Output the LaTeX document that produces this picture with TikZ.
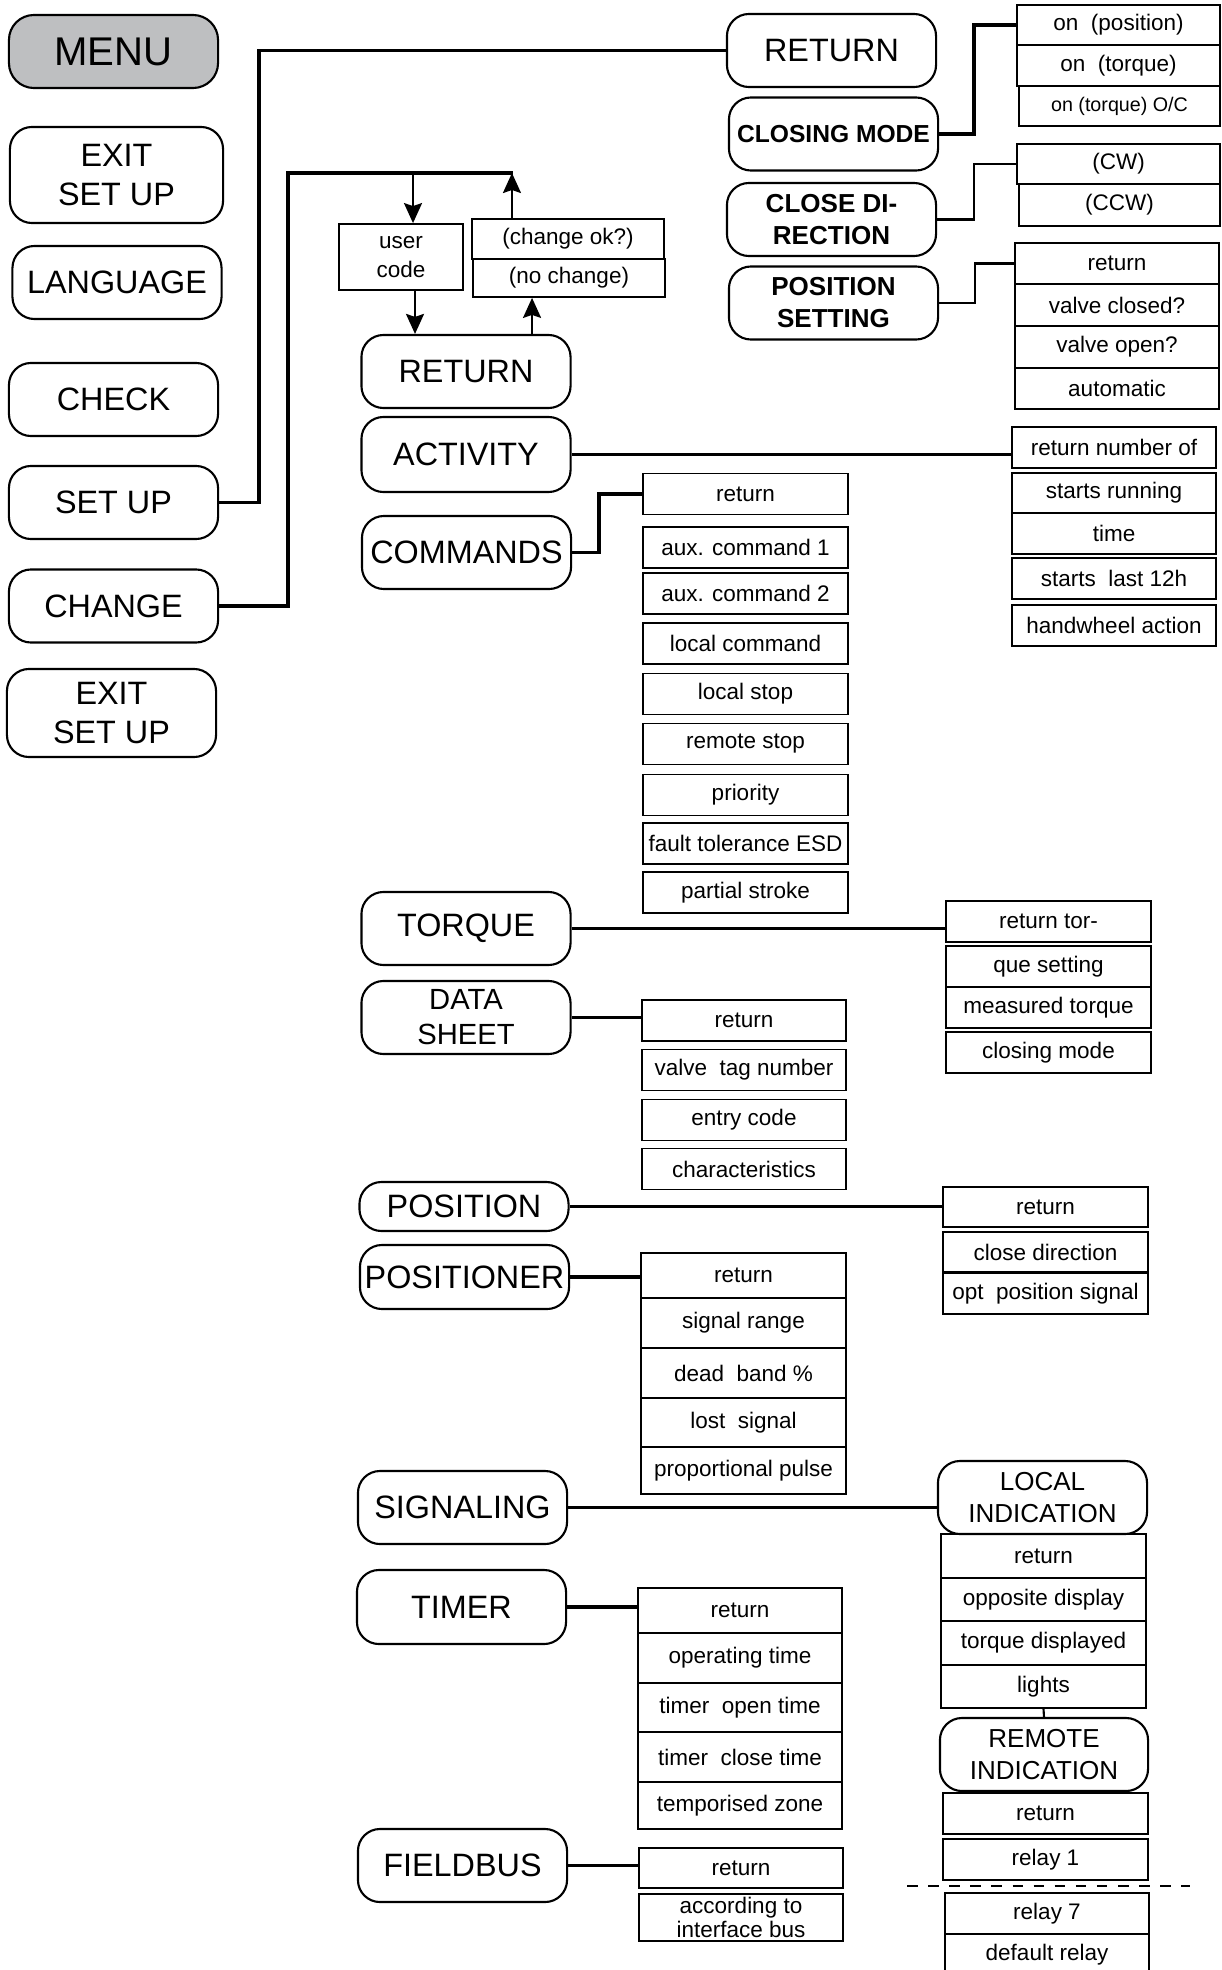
\documentclass[tikz,border=0pt]{standalone}
\usepackage{fontspec}
\setmainfont{Liberation Sans}
\usetikzlibrary{arrows.meta}
\definecolor{menugrau}{RGB}{190,191,193}
\begin{document}
\begin{tikzpicture}[x=0.01cm, y=-0.01cm]
			\tikzset{menu/.style={rectangle, rounded corners=2.2mm, draw=black, line width=0.6pt, minimum width=20.9mm, minimum height=7.3mm, inner sep=0.3mm, align=center, font=\fontsize{9.2}{10}\selectfont}}
			\tikzset{fett/.style={menu, font=\bfseries\fontsize{7.4}{9.1}\selectfont}}
			\tikzset{feld/.style={rectangle, draw=black, line width=0.5pt, minimum width=20.4mm, minimum height=4.1mm, inner sep=0.3mm, align=center, font=\fontsize{6.4}{8}\selectfont}}
			\tikzset{verb/.style={line width=1.1pt}}
			\tikzset{duenn/.style={line width=0.6pt}}
			\tikzset{pfeil/.style={line width=0.6pt, -{Stealth[length=2mm, width=1.8mm, inset=0.3mm]}}}
			\useasboundingbox (0,0) rectangle (1222,1970);

			% Main menu
			\node[menu, fill=menugrau, rounded corners=2.5mm, font=\fontsize{11.4}{13}\selectfont] at (113.5, 51.5) (menu) {MENU};
			\node[menu, minimum width=21.3mm, minimum height=9.6mm, font=\fontsize{9.2}{11.1}\selectfont] at (116.5, 175) (ex1) {EXIT\\SET UP};
			\node[menu] at (117, 282.5) (lang) {LANGUAGE};
			\node[menu] at (113.5, 399.5) (chk) {CHECK};
			\node[menu] at (113.5, 502.5) (setup) {SET UP};
			\node[menu] at (113.5, 606) (chg) {CHANGE};
			\node[menu, minimum height=8.8mm, font=\fontsize{9.2}{11.1}\selectfont] at (111.5, 713) (ex2) {EXIT\\SET UP};

			% Change: user code
			\coordinate (top) at (513, 173);
			\node[feld, minimum width=12.4mm, minimum height=6.6mm] at (401, 257) (uc) {user\\code};
			\node[feld, minimum width=19.2mm, minimum height=4mm] at (568, 239) (ok) {(change ok?)};
			\node[feld, minimum width=19.2mm, minimum height=3.8mm] at (569, 278) (nc) {(no change)};

			% Change menu
			\node[menu] at (466, 371.5) (ret) {RETURN};
			\node[menu, minimum height=7.5mm] at (466, 454.5) (act) {ACTIVITY};
			\node[menu] at (466.5, 552.5) (cmd) {COMMANDS};
			\node[menu] at (466, 928.5) (trq) {TORQUE};
			\node[menu, font=\fontsize{8.3}{10}\selectfont] at (466, 1017.5) (dat) {DATA\\SHEET};
			\node[menu, minimum height=4.9mm] at (464, 1206.5) (pos) {POSITION};
			\node[menu, minimum height=6.4mm] at (464.5, 1277) (posr) {POSITIONER};
			\node[menu] at (462.5, 1507.5) (sig) {SIGNALING};
			\node[menu, minimum height=7.4mm] at (461.5, 1607) (tim) {TIMER};
			\node[menu] at (462.5, 1865.5) (fb) {FIELDBUS};

			% Set up menu
			\node[menu] at (831.5, 50.5) (sret) {RETURN};
			\node[fett, font=\bfseries\fontsize{7}{9.1}\selectfont] at (833.5, 134) (cm) {CLOSING MODE};
			\node[fett] at (831.5, 219.5) (cd) {CLOSE DI-\\RECTION};
			\node[fett] at (833.5, 303) (ps) {POSITION\\SETTING};

			% Closing mode
			\node[feld, minimum width=20.3mm, minimum height=4mm] at (1118.5, 25) (cm1) {on~~(position)};
			\node[feld, minimum width=20.3mm] at (1118.5, 65.5) (cm2) {on~~(torque)};
			\node[feld, minimum width=20.1mm, minimum height=4mm, font=\fontsize{5.6}{7}\selectfont] at (1119.5, 106) (cm3) {on (torque) O/C};

			% Close direction
			\node[feld, minimum width=20.3mm, minimum height=4mm] at (1118.5, 164) (cd1) {(CW)};
			\node[feld, minimum width=20.1mm, minimum height=4.2mm] at (1119.5, 205) (cd2) {(CCW)};

			% Position setting
			\node[feld, line width=0.7pt, minimum height=4.15mm] at (1117, 263.5) (ps1) {return};
			\node[feld, line width=0.7pt, minimum height=4.15mm] at (1117, 305) (ps2) {valve closed?};
			\node[feld, line width=0.7pt, minimum height=4.15mm] at (1117, 347) (ps3) {valve open?};
			\node[feld, line width=0.7pt, minimum height=4.15mm] at (1117, 388.5) (ps4) {automatic};

			% Activity
			\node[feld] at (1114, 447.5) (a1) {return number of};
			\node[feld, minimum height=4mm] at (1114, 493) (a2) {starts running};
			\node[feld] at (1114, 533.5) (a3) {time};
			\node[feld] at (1114, 578.5) (a4) {starts~~last 12h};
			\node[feld] at (1114, 625.5) (a5) {handwheel action};

			% Commands
			\node[feld, minimum width=20.5mm] at (745.5, 494) (c1) {return};
			\node[feld, minimum width=20.5mm] at (745.5, 547.5) (c2) {aux. command 1};
			\node[feld, minimum width=20.5mm] at (745.5, 593.5) (c3) {aux. command 2};
			\node[feld, minimum width=20.5mm] at (745.5, 643.5) (c4) {local command};
			\node[feld, minimum width=20.5mm] at (745.5, 694) (c5) {local stop};
			\node[feld, minimum width=20.5mm] at (745.5, 744) (c6) {remote stop};
			\node[feld, minimum width=20.5mm] at (745.5, 795) (c7) {priority};
			\node[feld, minimum width=20.5mm] at (745.5, 843.5) (c8) {fault tolerance ESD};
			\node[feld, minimum width=20.5mm] at (745.5, 892.5) (c9) {partial stroke};

			% Torque
			\node[feld, minimum width=20.5mm] at (1048.5, 921.5) (t1) {return tor-};
			\node[feld, minimum width=20.5mm] at (1048.5, 966.5) (t2) {que setting};
			\node[feld, minimum width=20.5mm] at (1048.5, 1007.5) (t3) {measured torque};
			\node[feld, minimum width=20.5mm] at (1048.5, 1052.5) (t4) {closing mode};

			% Data sheet
			\node[feld] at (744, 1020.5) (d1) {return};
			\node[feld] at (744, 1070) (d2) {valve~~tag number};
			\node[feld] at (744, 1120) (d3) {entry code};
			\node[feld] at (744, 1169) (d4) {characteristics};

			% Position
			\node[feld, minimum width=20.5mm, minimum height=4mm] at (1045.5, 1207) (p1) {return};
			\node[feld, minimum width=20.5mm, minimum height=4mm] at (1045.5, 1252) (p2) {close direction};
			\node[feld, minimum width=20.5mm] at (1045.5, 1293.5) (p3) {opt~~position signal};

			% Positioner
			\node[feld, minimum width=20.5mm, minimum height=4.5mm] at (743.5, 1275.5) (pr1) {return};
			\node[feld, minimum width=20.5mm, minimum height=5mm] at (743.5, 1323) (pr2) {signal range};
			\node[feld, minimum width=20.5mm, minimum height=5mm] at (743.5, 1373) (pr3) {dead~~band \%};
			\node[feld, minimum width=20.5mm, minimum height=4.9mm] at (743.5, 1422.5) (pr4) {lost~~signal};
			\node[feld, minimum width=20.5mm, minimum height=4.7mm] at (743.5, 1470.5) (pr5) {proportional pulse};

			% Signaling
			\node[menu, font=\fontsize{7.4}{9.1}\selectfont] at (1042.5, 1497.5) (li) {LOCAL\\INDICATION};
			\node[feld, minimum width=20.5mm, minimum height=4.4mm] at (1043.5, 1556) (l1) {return};
			\node[feld, minimum width=20.5mm, minimum height=4.3mm] at (1043.5, 1599.5) (l2) {opposite display};
			\node[feld, minimum width=20.5mm, minimum height=4.4mm] at (1043.5, 1643) (l3) {torque displayed};
			\node[feld, minimum width=20.5mm, minimum height=4.3mm] at (1043.5, 1686.5) (l4) {lights};
			\node[menu, minimum width=20.8mm, font=\fontsize{7.4}{9.1}\selectfont] at (1044, 1754.5) (ri) {REMOTE\\INDICATION};
			\node[feld, minimum width=20.5mm] at (1045.5, 1813.5) (r1) {return};
			\node[feld, minimum width=20.5mm] at (1045.5, 1859.5) (r2) {relay 1};
			\coordinate (dl) at (907, 1886);
			\coordinate (dr) at (1190, 1886);
			\node[feld] at (1047, 1913.5) (r3) {relay 7};
			\node[feld] at (1047, 1954.5) (r4) {default relay};

			% Timer
			\node[feld, minimum height=4.5mm] at (740, 1610.5) (ti1) {return};
			\node[feld, minimum height=5mm] at (740, 1658) (ti2) {operating time};
			\node[feld, minimum height=4.9mm] at (740, 1707.5) (ti3) {timer~~open time};
			\node[feld, minimum height=5mm] at (740, 1757) (ti4) {timer~~close time};
			\node[feld, minimum height=4.7mm] at (740, 1805.5) (ti5) {temporised zone};

			% Fieldbus
			\node[feld, minimum height=4mm] at (741, 1868) (f1) {return};
			\node[feld, minimum height=4.1mm, font=\fontsize{6.4}{7}\selectfont] at (741, 1917.5) (f2) {according to\\interface bus};

			% Connections main menu
			\draw[verb] (setup.east) -- ++(40, 0) |- (sret.west);
			\draw[verb] (chg.east) -- ++(69, 0) |- (top);
			\coordinate (ua) at ([xshift=1.2mm]uc.north);
			\coordinate (ub) at ([xshift=1.4mm]uc.south);
			\coordinate (rb) at ([xshift=6.6mm]ret.north);
			\coordinate (oa) at ([xshift=-5.6mm]ok.north);
			\draw[pfeil] (ua |- top) -- (ua);
			\draw[pfeil] (ub) -- (ub |- ret.north);
			\draw[pfeil] (rb) -- (rb |- nc.south);
			\draw[pfeil] (oa) -- (oa |- top);

			% Connections set up
			\draw[verb] (cm.east) -- ++(35, 0) |- (cm1.west);
			\draw[duenn] (cd.east) -- ++(37, 0) |- (cd1.west);
			\draw[duenn] (ps.east) -- ++(36, 0) |- (ps1.west);

			% Connections change
			\draw[verb] (act.east) -- (act.east -| a1.west);
			\draw[verb] (cmd.east) -- ++(27, 0) |- (c1.west);
			\draw[verb] (trq.east) -- (trq.east -| t1.west);
			\draw[verb] (dat.east) -- (dat.east -| d1.west);
			\draw[verb] (pos.east) -- (pos.east -| p1.west);
			\draw[verb] (posr.east) -- (posr.east -| pr1.west);
			\draw[verb] (sig.east) -- (sig.east -| li.west);
			\draw[duenn] (l4.south) -- (ri.north);
			\draw[dashed, line width=0.5pt] (dl) -- (dr);
			\draw[verb] (tim.east) -- (tim.east -| ti1.west);
			\draw[verb] (fb.east) -- (fb.east -| f1.west);
		\end{tikzpicture}
\end{document}
